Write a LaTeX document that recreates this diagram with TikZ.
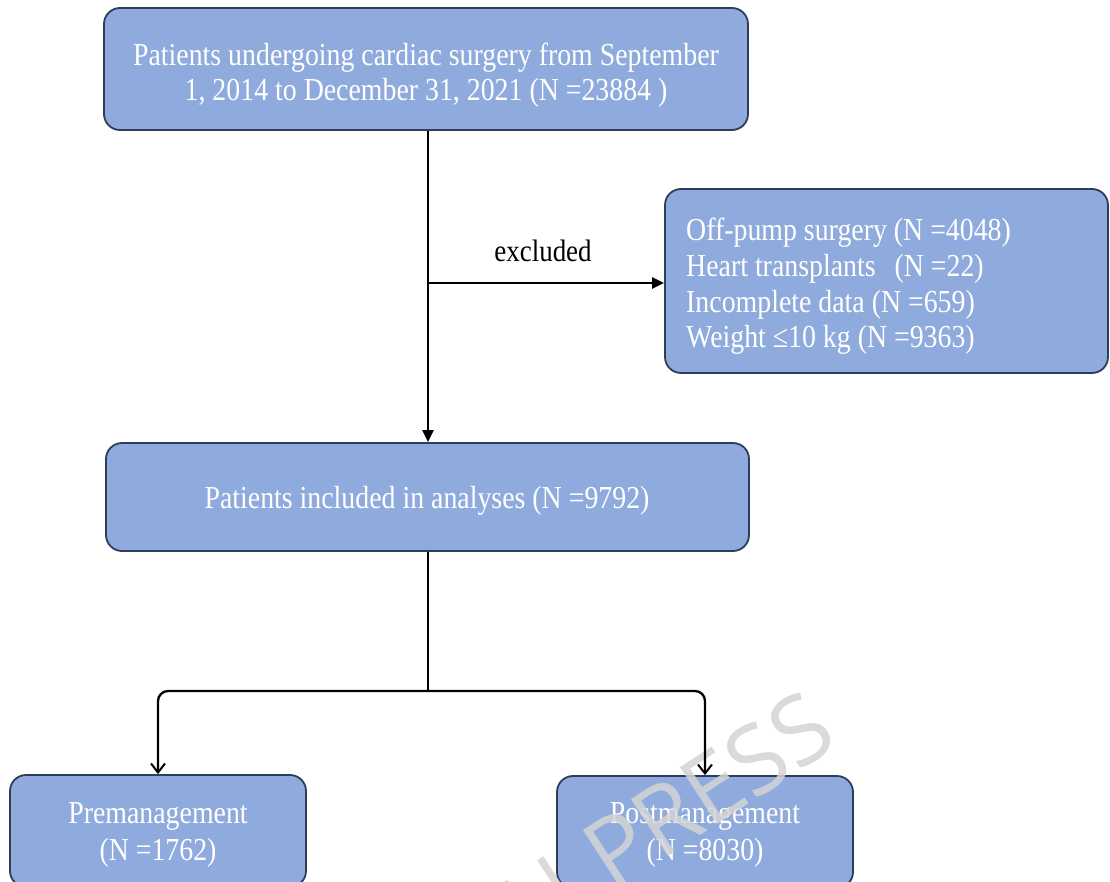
\documentclass[tikz,border=0pt]{standalone}
\usepackage{fontspec}
\setmainfont{Liberation Serif}[FakeStretch=0.87]
\newfontfamily\wmfont{Open Sans}
\usetikzlibrary{arrows.meta}
\definecolor{boxfill}{HTML}{8FAADC}
\definecolor{boxline}{HTML}{2E3D5C}
\definecolor{wmgray}{HTML}{D4D4D4}
\tikzset{
  flowbox/.style={draw=boxline, line width=1.8pt, fill=boxfill, rounded corners=16pt, inner sep=0pt},
  boxtext/.style={text=white, font=\fontsize{32}{38}\selectfont, inner sep=0pt, anchor=base},
  boxtextl/.style={boxtext, anchor=base west},
  conn/.style={draw=black, line width=2.3pt},
  solidtip/.style={-{Triangle[length=12pt,width=11pt]}},
  opentip/.style={-{Straight Barb[length=9pt,width=14pt,line width=2pt]}},
  wmark/.style={inner sep=0pt, text=wmgray, opacity=0.85, font=\wmfont\fontsize{95}{100}\selectfont},
}
\begin{document}
\begin{tikzpicture}[x=1pt,y=-1pt]
\useasboundingbox (0,0) rectangle (1110,881);
\clip (0,0) rectangle (1110,881);

% boxes
\node[flowbox, minimum width=644pt, minimum height=122pt] (b1) at (426,69) {};
\node[flowbox, minimum width=443pt, minimum height=184pt] (b2) at (886.5,281) {};
\node[flowbox, minimum width=643pt, minimum height=108pt] (b3) at (427.5,497) {};
\node[flowbox, minimum width=296pt, minimum height=112pt] (b4) at (158,831) {};
\node[flowbox, minimum width=296pt, minimum height=112pt] (b5) at (705,832) {};

% texts
\node[boxtext] (t1a) at (426,65) {Patients undergoing cardiac surgery from September};
\node[boxtext] (t1b) at (426,100) {1, 2014 to December 31, 2021 (N =23884 )};
\node[boxtextl] (t2a) at (686,240) {Off-pump surgery (N =4048)};
\node[boxtextl] (t2b) at (686,276) {Heart transplants\hspace{19pt}(N =22)};
\node[boxtextl] (t2c) at (686,312) {Incomplete data (N =659)};
\node[boxtextl] (t2d) at (686,347) {Weight ≤10 kg (N =9363)};
\node[boxtext] (t3) at (427,508) {Patients included in analyses (N =9792)};
\node[boxtext] (t4a) at (158,823) {Premanagement};
\node[boxtext] (t4b) at (158,860) {(N =1762)};
\node[boxtext] (t5a) at (705,823) {Postmanagement};
\node[boxtext] (t5b) at (705,860) {(N =8030)};

% watermark
\begin{scope}[shift={(612,893)}, rotate=33, transform shape]
  \node[wmark, anchor=base west] (wmP) at (0,0) {PRESS};
  \node[wmark, anchor=base east] (wmI) at (-28,0) {IN};
\end{scope}

% connectors
\coordinate (exc) at (428,283);
\coordinate (split) at (428,691);

\draw[conn, solidtip] (b1.south -| exc) -- (b3.north -| exc);
\draw[conn, solidtip] (exc) -- (b2.west |- exc);
\node[font=\fontsize{31}{36}\selectfont, text=black, anchor=base, inner sep=0pt] (lbl) at (543,261) {excluded};

\draw[conn] (b3.south -| split) -- (split);
\draw[conn, opentip, rounded corners=10pt] (split) -| (b4.north);
\draw[conn, opentip, rounded corners=10pt] (split) -| (b5.north);
\end{tikzpicture}
\end{document}
